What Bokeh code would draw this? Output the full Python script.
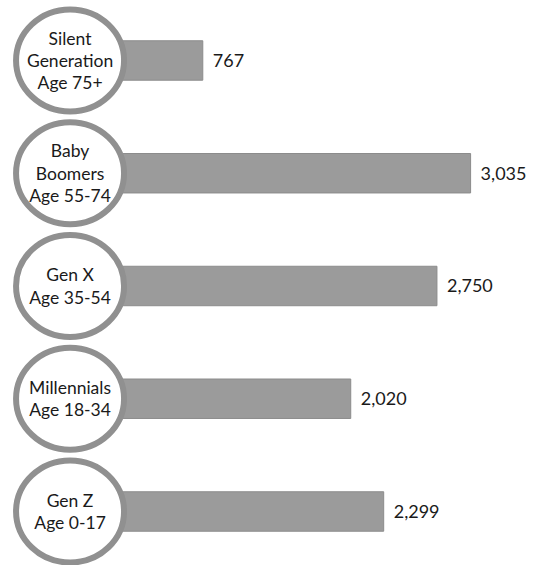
from bokeh.plotting import figure
from bokeh.models import Range1d, ColumnDataSource
from bokeh.core.properties import value
from bokeh.embed import file_html
from bokeh.resources import INLINE

generations = ["Silent\nGeneration\nAge 75+", "Baby\nBoomers\nAge 55-74", "Gen X\nAge 35-54",
               "Millennials\nAge 18-34", "Gen Z\nAge 0-17"]
values = [767, 3035, 2750, 2020, 2299]
value_labels = ["767", "3,035", "2,750", "2,020", "2,299"]

pos = list(range(len(values)))

src = ColumnDataSource(dict(
    y=pos, v=values, vl=value_labels, g=generations,
    cx=[-357] * len(values),
))

p = figure(width=536, height=565, output_backend="svg", toolbar_location=None,
           x_range=Range1d(-946, 3593), y_range=Range1d(4.479, -0.532),
           min_border=0, outline_line_color=None, background_fill_color="white")
p.axis.visible = False
p.grid.visible = False

p.hbar(y="y", left=0, right="v", height=0.35, source=src,
       fill_color="#9b9b9b", line_color="#8c8c8c", line_width=1)

p.ellipse(x="cx", y="y", width=108, height=102, width_units="screen", height_units="screen",
          source=src, fill_color="white", line_color="#909090", line_width=6)

p.text(x="cx", y="y", text="g", source=src, text_align="center", text_baseline="middle",
       text_font=value("Lato"), text_font_size="17.5px", text_color="#1a1a1a",
       text_line_height=1.06)

p.text(x="v", y="y", text="vl", source=src, x_offset=10, text_align="left",
       text_baseline="middle", text_font=value("Lato"), text_font_size="18px",
       text_color="#1a1a1a")

open("out.html", "w").write(file_html(p, INLINE))
